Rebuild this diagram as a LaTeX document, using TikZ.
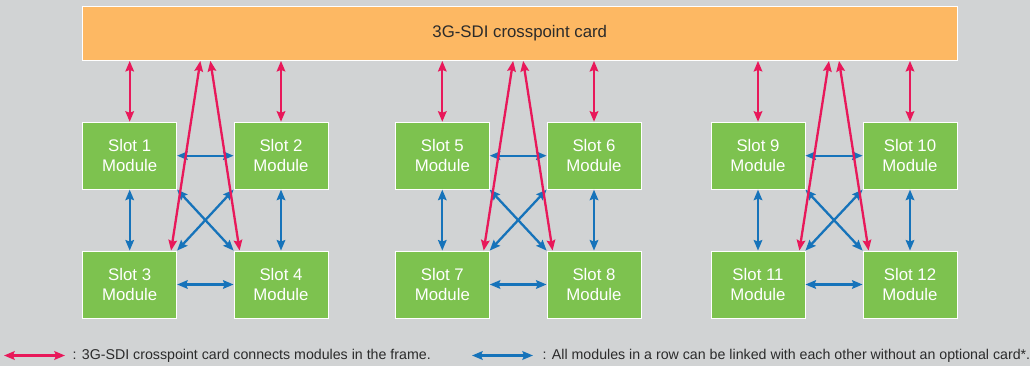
\documentclass[tikz,border=0pt]{standalone}
\usepackage{fontspec}
\setmainfont{Liberation Sans}
\usetikzlibrary{arrows.meta,calc}
\definecolor{bg}{HTML}{D1D3D4}
\definecolor{cardfill}{HTML}{FDB863}
\definecolor{slotgreen}{HTML}{7DC24F}
\definecolor{linkred}{HTML}{E8185A}
\definecolor{linkblue}{HTML}{1673BA}
\definecolor{txt}{HTML}{2B2B2B}
\tikzset{
  card/.style={rectangle, fill=cardfill, draw=white, line width=0.8pt,
    minimum width=874.5pt, minimum height=54pt, inner sep=0pt,
    font=\fontsize{16.8}{19.5}\selectfont, text=txt},
  slotbox/.style={rectangle, fill=slotgreen, draw=white, line width=0.8pt,
    minimum width=94pt, minimum height=67pt, inner sep=0pt, align=center,
    text=white, font=\fontsize{16.8}{19.5}\selectfont},
  redlink/.style={draw=linkred, line width=2.3pt,
    {Stealth[length=10.5pt,width=8.5pt,inset=1.5pt]}-{Stealth[length=10.5pt,width=8.5pt,inset=1.5pt]}},
  bluelink/.style={draw=linkblue, line width=2.3pt,
    {Stealth[length=10.5pt,width=8.5pt,inset=1.5pt]}-{Stealth[length=10.5pt,width=8.5pt,inset=1.5pt]}},
  legendtext/.style={anchor=west, inner sep=0pt, text=txt, font=\fontsize{14.2}{16}\selectfont}
}
\begin{document}
\begin{tikzpicture}[x=1pt,y=-1pt]
\fill[bg] (0,0) rectangle (1030,366);
\useasboundingbox (0,0) rectangle (1030,366);

\node[card] (card) at (519.75,33.5) {3G-SDI crosspoint card};

% group 1
\node[slotbox] (s1) at (129.7,155.7) {Slot 1\\Module};
\node[slotbox] (s2) at (281,155.7) {Slot 2\\Module};
\node[slotbox] (s3) at (129.7,284.5) {Slot 3\\Module};
\node[slotbox] (s4) at (281,284.5) {Slot 4\\Module};
% group 2
\node[slotbox] (s5) at (442.3,155.7) {Slot 5\\Module};
\node[slotbox] (s6) at (594,155.7) {Slot 6\\Module};
\node[slotbox] (s7) at (442.3,284.5) {Slot 7\\Module};
\node[slotbox] (s8) at (594,284.5) {Slot 8\\Module};
% group 3
\node[slotbox] (s9) at (758,155.7) {Slot 9\\Module};
\node[slotbox] (s10) at (910,155.7) {Slot 10\\Module};
\node[slotbox] (s11) at (758,284.5) {Slot 11\\Module};
\node[slotbox] (s12) at (910,284.5) {Slot 12\\Module};

% blue links
\foreach \a/\b/\c/\d in {s1/s2/s3/s4, s5/s6/s7/s8, s9/s10/s11/s12}{
  \draw[bluelink] (\a.east) -- (\b.west);
  \draw[bluelink] (\c.east) -- (\d.west);
  \draw[bluelink] (\a.south) -- (\c.north);
  \draw[bluelink] (\b.south) -- (\d.north);
  \draw[bluelink] (\a.south east) -- (\d.north west);
  \draw[bluelink] (\b.south west) -- (\c.north east);
}

% red links
\foreach \a/\b/\c/\d in {s1/s2/s3/s4, s5/s6/s7/s8, s9/s10/s11/s12}{
  \draw[redlink] (\a.north |- card.south) -- (\a.north);
  \draw[redlink] (\b.north |- card.south) -- (\b.north);
  \coordinate (m) at ($(\a.east)!0.5!(\b.west)$);
  \draw[redlink] ($(m |- card.south)+(-5,0)$) -- ($(\c.north east)+(-6,0)$);
  \draw[redlink] ($(m |- card.south)+(5,0)$) -- ($(\d.north west)+(6,0)$);
}

% legend
\coordinate (lr1) at (4,355.5);
\coordinate (lr2) at (65,355.5);
\draw[redlink] (lr1) -- (lr2);
\node[legendtext] (lt1) at (72.5,355.5) {: 3G-SDI crosspoint card connects modules in the frame.};
\coordinate (lb1) at (472,355.5);
\coordinate (lb2) at (533,355.5);
\draw[bluelink] (lb1) -- (lb2);
\node[legendtext] (lt2) at (542.5,355.5) {: All modules in a row can be linked with each other without an optional card*.};
\end{tikzpicture}
\end{document}
